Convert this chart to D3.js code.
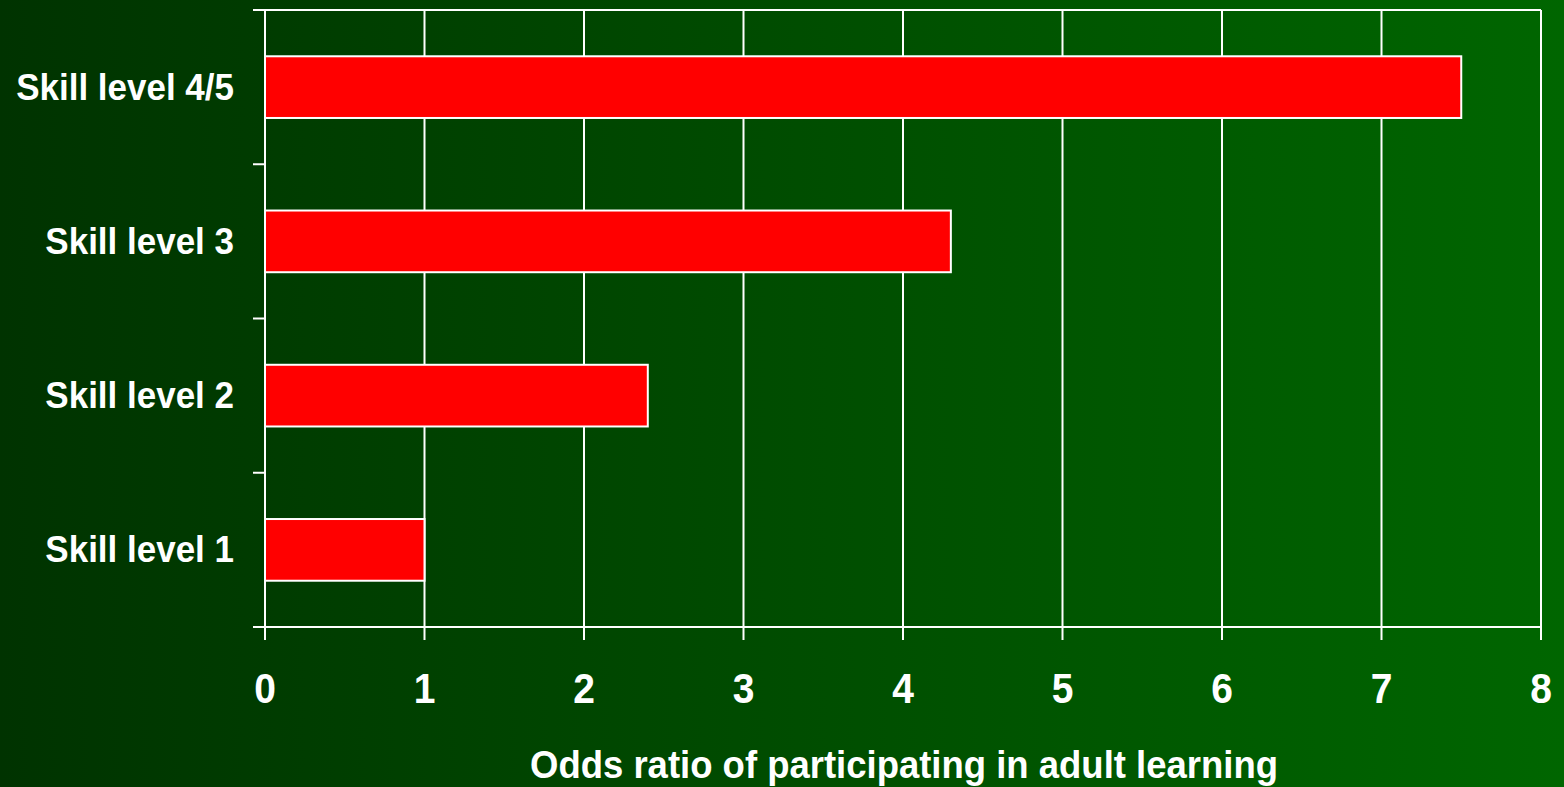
<!DOCTYPE html>
<html>
<head>
<meta charset="utf-8">
<script src="https://cdn.jsdelivr.net/npm/d3@7"></script>
<style>
  html, body { margin: 0; padding: 0; overflow: hidden; }
  svg { display: block; }
</style>
</head>
<body>
<script>
const categories = ["Skill level 4/5", "Skill level 3", "Skill level 2", "Skill level 1"];
const values = [7.5, 4.3, 2.4, 1.0];
const xTicks = [0, 1, 2, 3, 4, 5, 6, 7, 8];
const xTitle = "Odds ratio of participating in adult learning";

const W = 1564, H = 787;
const mLeft = 265, mRight = 1541, mTop = 10, mBottom = 627;
const font = "'Liberation Sans', Arial, sans-serif";
const vStretch = 1.08;

const svg = d3.select("body").append("svg").attr("width", W).attr("height", H);
const defs = svg.append("defs");
const grad = defs.append("linearGradient").attr("id", "bg").attr("x1", "0").attr("x2", "1").attr("y1", "0").attr("y2", "0");
grad.append("stop").attr("offset", "0%").attr("stop-color", "#003300");
grad.append("stop").attr("offset", "100%").attr("stop-color", "#006600");
svg.append("rect").attr("width", W).attr("height", H).attr("fill", "url(#bg)");

const x = d3.scaleLinear().domain([0, 8]).range([mLeft, mRight]);
const y = d3.scaleBand().domain(categories).range([mTop, mBottom]).paddingInner(0.6).paddingOuter(0.3);

const g = svg.append("g");
const stroke = "#ffffff", sw = 2;

// vertical grid lines + bottom ticks
g.selectAll("line.grid").data(xTicks).join("line")
  .attr("x1", d => x(d)).attr("x2", d => x(d))
  .attr("y1", mTop).attr("y2", mBottom + 13)
  .attr("stroke", stroke).attr("stroke-width", sw);

// top border
g.append("line").attr("x1", mLeft - 12).attr("x2", mRight).attr("y1", mTop).attr("y2", mTop)
  .attr("stroke", stroke).attr("stroke-width", sw);
// bottom axis line
g.append("line").attr("x1", mLeft - 12).attr("x2", mRight).attr("y1", mBottom).attr("y2", mBottom)
  .attr("stroke", stroke).attr("stroke-width", sw);

// left category boundary ticks
const step = y.step();
const bounds = d3.range(categories.length + 1).map(i => mTop + i * step);
g.selectAll("line.ytick").data(bounds).join("line")
  .attr("x1", mLeft - 12).attr("x2", mLeft)
  .attr("y1", d => d).attr("y2", d => d)
  .attr("stroke", stroke).attr("stroke-width", sw);

// bars
g.selectAll("rect.bar").data(categories).join("rect")
  .attr("x", x(0))
  .attr("y", d => y(d))
  .attr("width", (d, i) => x(values[i]) - x(0))
  .attr("height", y.bandwidth())
  .attr("fill", "#ff0000")
  .attr("stroke", stroke).attr("stroke-width", sw);

// category labels
g.selectAll("text.cat").data(categories).join("text")
  .attr("transform", d => `translate(234,${y(d) + y.bandwidth() / 2 + 12.5}) scale(1,${vStretch})`)
  .attr("text-anchor", "end")
  .attr("fill", "#ffffff")
  .attr("font-family", font).attr("font-weight", "bold").attr("font-size", 35)
  .text(d => d);

// tick labels
g.selectAll("text.xt").data(xTicks).join("text")
  .attr("transform", d => `translate(${x(d)},703) scale(1,${vStretch})`)
  .attr("text-anchor", "middle")
  .attr("fill", "#ffffff")
  .attr("font-family", font).attr("font-weight", "bold").attr("font-size", 39)
  .text(d => d);

// axis title
g.append("text")
  .attr("transform", `translate(${(mLeft + mRight) / 2 + 1},778) scale(1,${vStretch})`)
  .attr("text-anchor", "middle")
  .attr("fill", "#ffffff")
  .attr("font-family", font).attr("font-weight", "bold").attr("font-size", 36.5)
  .text(xTitle);
</script>
</body>
</html>
